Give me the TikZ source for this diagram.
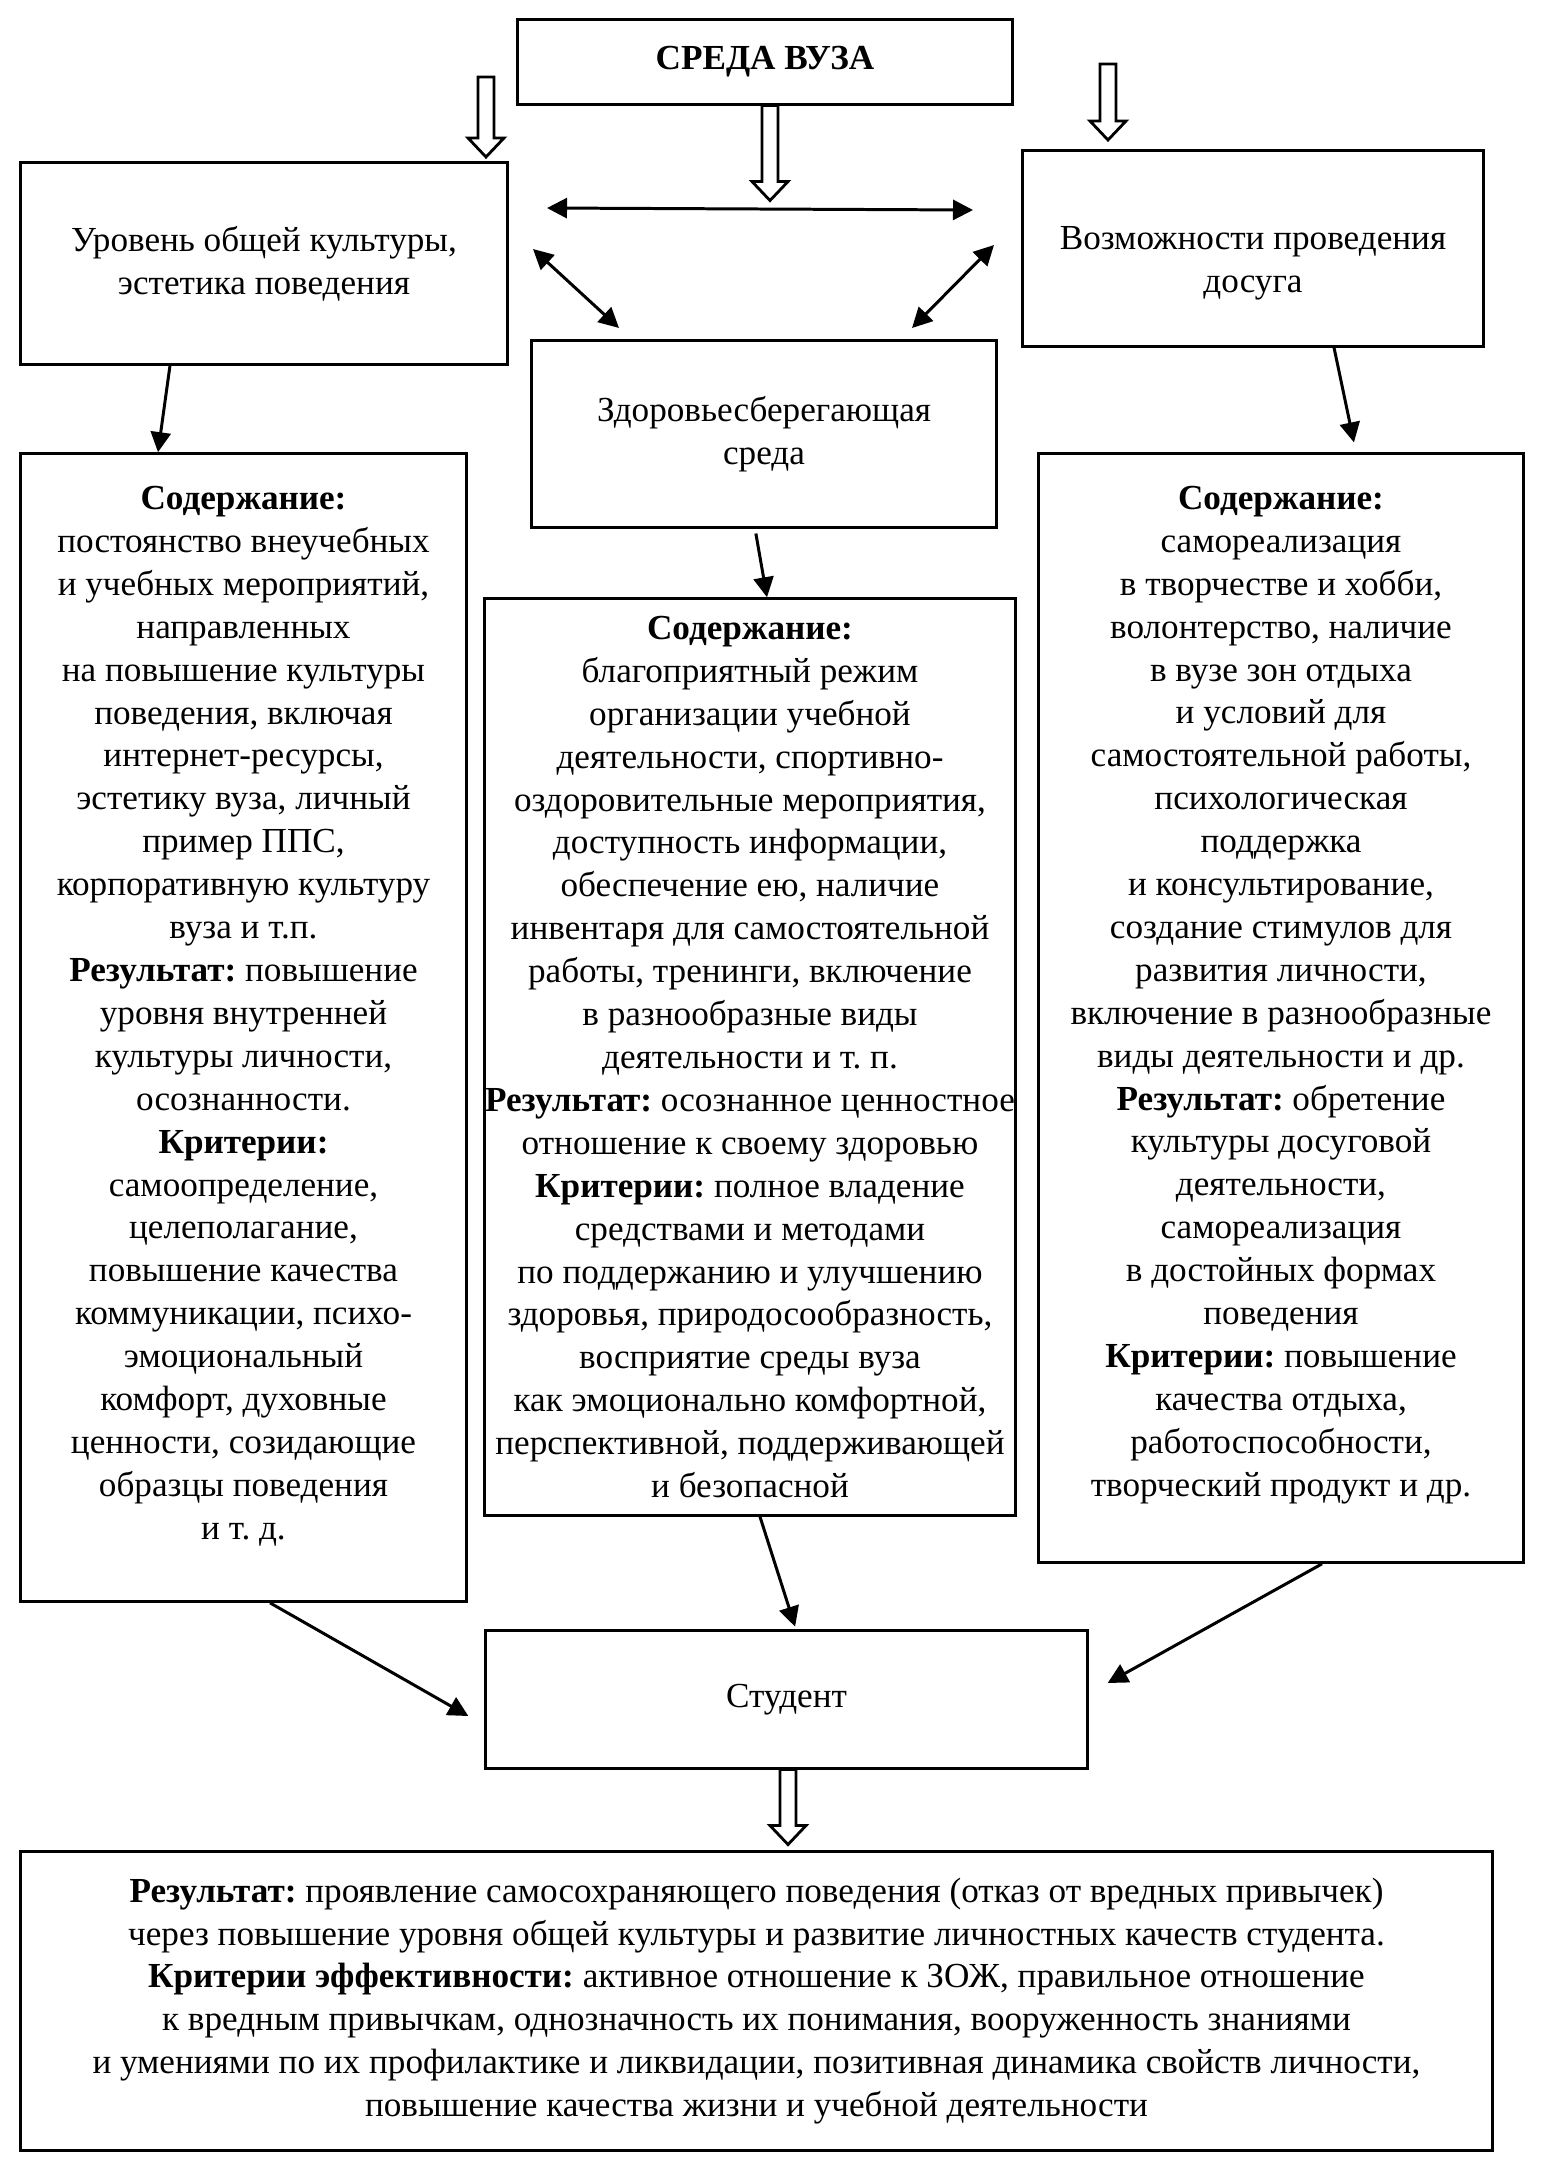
\documentclass[tikz,border=0pt]{standalone}
\usepackage{fontspec}
\setmainfont{Liberation Serif}
\frenchspacing
\usetikzlibrary{arrows.meta}

\begin{document}
\begin{tikzpicture}[x=0.01cm,y=-0.01cm,
    boxstyle/.style={draw=black, line width=0.85pt, inner sep=0pt, align=center, font=\fontsize{10}{12.2}\selectfont},
    arrstyle/.style={line width=0.85pt, -{Triangle[length=2mm,width=2mm]}},
    dblstyle/.style={line width=0.85pt, {Triangle[length=2mm,width=2mm]}-{Triangle[length=2mm,width=2mm]}},
    pics/hollowarr/.style={code={\draw[line width=0.8pt, fill=white] (-8,0) -- (-8,#1-19) -- (-18,#1-19) -- (0,#1) -- (18,#1-19) -- (8,#1-19) -- (8,0) -- cycle;}}]
    \useasboundingbox (0,0) rectangle (1542,2169);
    \node (sreda) at (765,62)[boxstyle, minimum width=4.94cm, minimum height=0.84cm]{\textbf{СРЕДА ВУЗА}};
    \node (lvl) at (264,263.5)[boxstyle, minimum width=4.86cm, minimum height=2.01cm]{Уровень общей культуры,\\ эстетика поведения};
    \node (vozm) at (1253,248.5)[boxstyle, minimum width=4.60cm, minimum height=1.95cm, text height=27.4pt]{Возможности проведения\\ досуга};
    \node (zdor) at (764,434)[boxstyle, minimum width=4.64cm, minimum height=1.86cm]{Здоровьесберегающая\\ среда};
    \node (lcont) at (243.5,1027.5)[boxstyle, minimum width=4.45cm, minimum height=11.47cm, text depth=8.4pt]{\textbf{Содержание:}\\
        постоянство внеучебных\\ и учебных мероприятий,\\ направленных\\ на повышение культуры\\
        поведения, включая\\ интернет-ресурсы,\\ эстетику вуза, личный\\ пример ППС,\\
        корпоративную культуру\\ вуза и т.п.\\ \textbf{Результат:} повышение\\ уровня внутренней\\
        культуры личности,\\ осознанности.\\ \textbf{Критерии:}\\ самоопределение,\\ целеполагание,\\
        повышение качества\\ коммуникации, психо-\\ эмоциональный\\ комфорт, духовные\\
        ценности, созидающие\\ образцы поведения\\ и т. д.};
    \node (mcont) at (750,1057)[boxstyle, minimum width=5.30cm, minimum height=9.16cm]{\textbf{Содержание:}\\
        благоприятный режим\\ организации учебной\\ деятельности, спортивно-\\
        оздоровительные мероприятия,\\ доступность информации,\\ обеспечение ею, наличие\\
        инвентаря для самостоятельной\\ работы, тренинги, включение\\ в разнообразные виды\\
        деятельности и т. п.\\ \textbf{Результат:} осознанное ценностное\\ отношение к своему здоровью\\
        \textbf{Критерии:} полное владение\\ средствами и методами\\ по поддержанию и улучшению\\
        здоровья, природосообразность,\\ восприятие среды вуза\\ как эмоционально комфортной,\\
        перспективной, поддерживающей\\ и безопасной};
    \node (rcont) at (1281,1008)[boxstyle, minimum width=4.84cm, minimum height=11.08cm, text depth=9.6pt]{\textbf{Содержание:}\\
        самореализация\\ в творчестве и хобби,\\ волонтерство, наличие\\ в вузе зон отдыха\\
        и условий для\\ самостоятельной работы,\\ психологическая\\ поддержка\\ и консультирование,\\
        создание стимулов для\\ развития личности,\\ включение в разнообразные\\ виды деятельности и др.\\
        \textbf{Результат:} обретение\\ культуры досуговой\\ деятельности,\\ самореализация\\
        в достойных формах\\ поведения\\ \textbf{Критерии:} повышение\\ качества отдыха,\\
        работоспособности,\\ творческий продукт и др.};
    \node (stud) at (786.5,1699.5)[boxstyle, minimum width=6.01cm, minimum height=1.37cm]{Студент};
    \node (itog) at (756.5,2001)[boxstyle, minimum width=14.71cm, minimum height=2.98cm]{\textbf{Результат:} проявление самосохраняющего поведения (отказ от вредных привычек)\\
        через повышение уровня общей культуры и развитие личностных качеств студента.\\
        \textbf{Критерии эффективности:} активное отношение к ЗОЖ, правильное отношение\\
        к вредным привычкам, однозначность их понимания, вооруженность знаниями\\
        и умениями по их профилактике и ликвидации, позитивная динамика свойств личности,\\
        повышение качества жизни и учебной деятельности};
    \coordinate (h1) at (547,208);
    \coordinate (h2) at (973,210);
    \coordinate (d1) at (533,249);
    \coordinate (d2) at (619,328);
    \coordinate (d3) at (994,245);
    \coordinate (d4) at (912,328);
    \pic at (486,77) {hollowarr=80};
    \pic at (sreda.south -| 770,0) {hollowarr=95};
    \pic at (1108,64) {hollowarr=76};
    \pic at (stud.south -| 788,0) {hollowarr=75};
    \draw[dblstyle] (h1) -- (h2);
    \draw[dblstyle] (d1) -- (d2);
    \draw[dblstyle] (d3) -- (d4);
    \draw[arrstyle] (lvl.south -| 170,0) -- (lcont.north -| 158,0);
    \draw[arrstyle, shorten >=1mm] (vozm.south -| 1334,0) -- (rcont.north -| 1356,0);
    \draw[arrstyle, shorten <=0.5mm] (zdor.south -| 755,0) -- (mcont.north -| 767,0);
    \draw[arrstyle] (lcont.south -| 270,0) -- ([xshift=-1.6mm]stud.west |- 0,1716);
    \draw[arrstyle, shorten >=0.3mm] (mcont.south -| 760,0) -- (stud.north -| 796,0);
    \draw[arrstyle] (rcont.south -| 1322,0) -- ([xshift=1.9mm]stud.east |- 0,1683);
\end{tikzpicture}
\end{document}
